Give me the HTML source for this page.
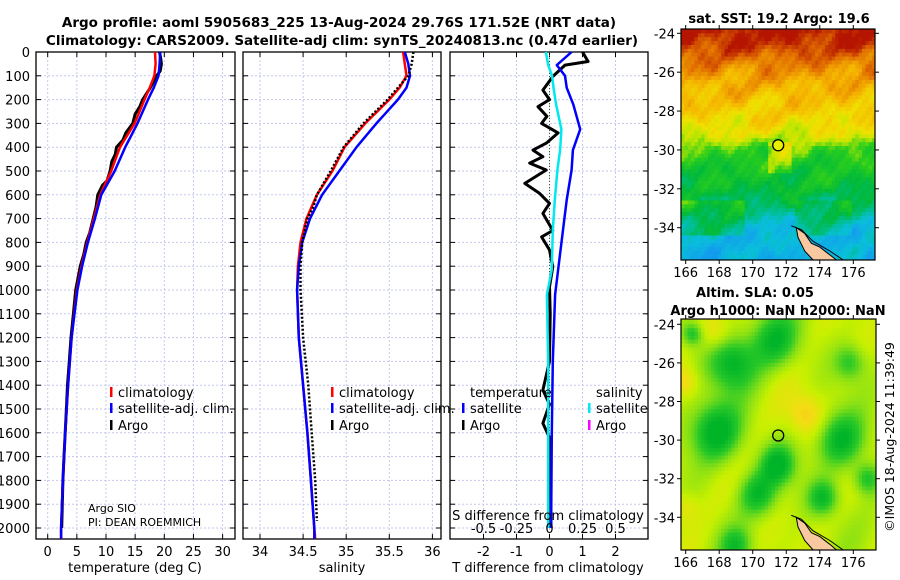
<!DOCTYPE html>
<html><head><meta charset="utf-8"><style>
html,body{margin:0;padding:0;background:#fff;}
svg{display:block;font-family:"DejaVu Sans","Liberation Sans",sans-serif;}
</style></head><body>
<svg id="c" width="900" height="580" viewBox="0 0 900 580" xmlns="http://www.w3.org/2000/svg">
<text x="339" y="27" text-anchor="middle" font-size="13.5" font-weight="bold">Argo profile: aoml 5905683_225 13-Aug-2024 29.76S 171.52E (NRT data)</text>
<text x="342" y="45" text-anchor="middle" font-size="13.5" font-weight="bold">Climatology: CARS2009. Satellite-adj clim: synTS_20240813.nc (0.47d earlier)</text>
<text x="779" y="23" text-anchor="middle" font-size="13" font-weight="bold">sat. SST: 19.2 Argo: 19.6</text>
<text x="755" y="297" text-anchor="middle" font-size="13" font-weight="bold">Altim. SLA: 0.05</text>
<text x="778" y="315" text-anchor="middle" font-size="13" font-weight="bold">Argo h1000: NaN h2000: NaN</text>
<text transform="translate(894,437) rotate(-90)" text-anchor="middle" font-size="12.5">©IMOS 18-Aug-2024 11:39:49</text>
<g id="g"></g>
</svg>
<script>
// ---- data ----
var depthLevels = [0,50,100,150,200,300,400,500,600,700,800,900,1000,1200,1400,1600,1800,2000,2046];
var climT = [18.4,18.5,18.3,17.5,16.6,14.9,12.4,10.9,9.0,7.9,6.8,5.8,5.0,4.1,3.5,3.0,2.6,2.3,2.3];
var satT  = [19.3,19.2,19.0,18.2,17.2,15.4,13.3,11.5,9.2,8.1,6.9,5.9,5.1,4.1,3.5,3.0,2.6,2.3,2.3];
var argoDepths = [0,30,50,80,100,150,200,230,260,300,340,370,400,430,460,500,540,560,600,650,700,760,800,850,900,1000,1100,1200,1300,1400,1500,1600,1700,1800,1900,2000];
var argoT = [19.2,19.4,19.5,19.3,18.7,17.6,16.3,15.8,15.0,14.6,13.4,12.9,11.8,11.6,11.0,10.7,10.2,9.4,8.6,8.3,7.8,7.2,6.6,6.2,5.6,4.8,4.4,4.0,3.7,3.4,3.2,3.0,2.8,2.6,2.5,2.4];
var climS = [35.66,35.68,35.70,35.62,35.50,35.22,34.98,34.84,34.66,34.54,34.47,34.44,34.43,34.45,34.50,34.55,34.59,34.63,34.64];
var satS  = [35.68,35.72,35.74,35.70,35.60,35.35,35.12,34.92,34.72,34.58,34.49,34.45,34.43,34.45,34.50,34.55,34.59,34.63,34.63];
var argoSDepths = [0,50,100,150,200,300,400,500,550,600,650,700,800,900,1000,1200,1400,1600,1800,1970];
var argoS = [35.78,35.76,35.72,35.60,35.48,35.20,34.97,34.82,34.74,34.66,34.62,34.55,34.49,34.47,34.47,34.50,34.56,34.60,34.64,34.66];
var diffDepths = [0,40,55,103,160,200,230,270,300,340,383,412,440,467,496,552,594,636,678,750,777,832,903,987,1100,1300,1420,1480,1560,1620,1800,2000];
var diffTargo = [1.0,1.17,0.47,0.1,-0.2,0,-0.35,-0.08,-0.24,0.26,-0.1,-0.5,-0.2,-0.6,-0.1,-0.75,-0.3,0,-0.2,0.1,-0.24,0,0.1,0,0.02,0,-0.2,0,-0.2,0,0.02,0.05];
var satDiffDepths = [0,55,100,150,220,325,412,496,622,748,916,1020,1300,1600,2000];
var diffTsat = [0.67,0.22,0.47,0.52,0.72,0.93,0.71,0.67,0.52,0.41,0.26,0.17,0.1,0.07,0.05];
var diffSsat = [-0.027,-0.01,0.02,0.03,0.05,0.09,0.08,0.06,0.04,0.025,0.017,-0.02,-0.01,-0.01,-0.01];
var depthTicks = [0,100,200,300,400,500,600,700,800,900,1000,1100,1200,1300,1400,1500,1600,1700,1800,1900,2000];
var tTicks = [0,5,10,15,20,25,30];
var sTicks = [34,34.5,35,35.5,36];
var dTicks = [-2,-1,0,1,2];
var dsTicks = [-0.5,-0.25,0,0.25,0.5];
var lonTicks = [166,168,170,172,174,176];
var latTicks = [-24,-26,-28,-30,-32,-34];
var argoLon = 171.52, argoLat = -29.76;

// ---- scales ----
var TOP=52, BOT=539;
function yD(d){return 52 + d*0.238;}
function xT(t){return 47.7 + t*5.83;}
function xS(s){return 260 + (s-34)*86.2;}
function xD(v){return 549.5 + v*33;}
function xDS(v){return xD(v*4);}
var NS="http://www.w3.org/2000/svg";
var G=document.getElementById('g');
function mk(tag,attrs,parent){var e=document.createElementNS(NS,tag);for(var k in attrs)e.setAttribute(k,attrs[k]);(parent||G).appendChild(e);return e;}
function txt(x,y,s,size,anchor,parent){var e=mk('text',{x:x,y:y,'font-size':size||13,'text-anchor':anchor||'start'},parent);e.textContent=s;return e;}

var panels=[{x0:36,x1:235,ticks:tTicks,sc:xT,name:'temperature'},{x0:243,x1:441,ticks:sTicks,sc:xS,name:'salinity'},{x0:450,x1:648,ticks:dTicks,sc:xD,name:'difference'}];
panels.forEach(function(p,pi){
  var pg=mk('g',{});
  
  
  depthTicks.forEach(function(d){
    var y=yD(d);
    var gl=mk('line',{x1:p.x0,x2:p.x1,y1:y,y2:y,stroke:'#c4c8ee','stroke-width':1,'stroke-dasharray':'2,2'},pg);
    
    
    mk('line',{x1:p.x0,x2:p.x0+5,y1:y,y2:y,stroke:'#000'},pg);
    mk('line',{x1:p.x1-5,x2:p.x1,y1:y,y2:y,stroke:'#000'},pg);
  });
  p.ticks.forEach(function(t){
    var x=p.sc(t);
    var gl=mk('line',{x1:x,x2:x,y1:TOP,y2:BOT,stroke:'#c4c8ee','stroke-width':1,'stroke-dasharray':'2,2'},pg);
    
    
    mk('line',{x1:x,x2:x,y1:BOT-5,y2:BOT,stroke:'#000'},pg);
    mk('line',{x1:x,x2:x,y1:TOP,y2:TOP+5,stroke:'#000'},pg);
    var tl=txt(x,556,String(t),13,'middle',pg);
    
    
  });
  var fr=mk('rect',{x:p.x0,y:TOP,width:p.x1-p.x0,height:BOT-TOP,fill:'none',stroke:'#000','stroke-width':1.3},pg);
  
  
});
depthTicks.forEach(function(d){
  var t=txt(30,yD(d)+5,String(d),13,'end');
  
  
});
var xt1=txt(135,572,'temperature (deg C)',13,'middle');


var xt2=txt(342,572,'salinity',13,'middle');


var xt3=txt(548,572,'T difference from climatology',13,'middle');



function line(xs,ds,sx,color,w,dash,name){
  var pts=xs.map(function(v,i){return sx(v).toFixed(1)+','+yD(ds[i]).toFixed(1);}).join(' ');
  var a={points:pts,fill:'none',stroke:color,'stroke-width':w,'stroke-linejoin':'round'};
  if(dash)a['stroke-dasharray']=dash;
  var e=mk('polyline',a);
  
  
  return e;
}
line(argoT,argoDepths,xT,'#000',3,null,'argo-temperature-line');
line(climT,depthLevels,xT,'#f00',2.5,null,'climatology-temperature-line');
line(satT,depthLevels,xT,'#00f',2.5,null,'satellite-temperature-line');
line(climS,depthLevels,xS,'#f00',2.5,null,'climatology-salinity-line');
line(satS,depthLevels,xS,'#00f',2.5,null,'satellite-salinity-line');
line(argoS,argoSDepths,xS,'#000',2.5,'2,2','argo-salinity-line');
var zl=mk('line',{x1:xD(0),x2:xD(0),y1:TOP,y2:BOT-10,stroke:'#3a5a20','stroke-width':1,'stroke-dasharray':'1,2'});


line(diffTargo,diffDepths,xD,'#000',3,null,'argo-t-difference-line');
line(diffTsat,satDiffDepths,xD,'#00f',2.5,null,'satellite-t-difference-line');
line(diffSsat,satDiffDepths,xDS,'#00e8f0',2.5,null,'satellite-s-difference-line');

var st=txt(548,520,'S difference from climatology',13,'middle');


dsTicks.forEach(function(v){
  var t=txt(xDS(v),533,String(v),13,'middle');
  
  
});

function legend(x,y,color,label,name){
  var lg=mk('g',{});
  
  
  mk('rect',{x:x,y:y-10,width:2.5,height:10,fill:color},lg);
  txt(x+8,y,label,13,'start',lg);
}
legend(110,397,'#f00','climatology','legend-climatology');
legend(110,413,'#00f','satellite-adj. clim.','legend-satellite-adj');
legend(110,430,'#000','Argo','legend-argo');
legend(331,397,'#f00','climatology','legend-climatology-salinity');
legend(331,413,'#00f','satellite-adj. clim.','legend-satellite-adj-salinity');
legend(331,430,'#000','Argo','legend-argo-salinity');
var lt=txt(470,397,'temperature',13);


legend(462,413,'#00f','satellite','legend-t-satellite');
legend(462,430,'#000','Argo','legend-t-argo');
var ls=txt(596,397,'salinity',13);


legend(588,413,'#00e8f0','satellite','legend-s-satellite');
legend(588,430,'#f0f','Argo','legend-s-argo');
var pi1=txt(88,512,'Argo SIO',11);


var pi2=txt(88,526,'PI: DEAN ROEMMICH',11);



// ---- maps ----
function rgb(a){return 'rgb('+a.map(Math.round).join(',')+')';}
function lerpC(stops,v){
  if(v<=stops[0][0])return rgb(stops[0][1]);
  for(var i=1;i<stops.length;i++){if(v<=stops[i][0]){var a=stops[i-1],b=stops[i],f=(v-a[0])/(b[0]-a[0]);
    return rgb([0,1,2].map(function(k){return a[1][k]+(b[1][k]-a[1][k])*f;}));}}
  return rgb(stops[stops.length-1][1]);
}
var sstStops=[[0.15,[20,150,240]],[0.27,[10,190,220]],[0.35,[0,190,140]],[0.42,[0,185,60]],[0.52,[40,205,30]],[0.6,[190,230,0]],[0.66,[240,225,0]],[0.75,[245,180,0]],[0.85,[225,110,0]],[0.95,[180,20,0]]];
var slaStops=[[0.2,[0,180,40]],[0.35,[40,200,40]],[0.5,[140,225,20]],[0.62,[200,240,0]],[0.75,[245,220,20]],[0.9,[240,170,40]]];
function drawMap(m){
  var mg=mk('g',{});
  
  
  var lonL=165.72,lonR=177.3;
  function X(lon){return m.x0+(lon-lonL)*m.px;}
  function Y(lat){return m.latY0+(-24-lat)*m.py;}
  var step=0.2;
  for(var lat=m.latTop;lat>m.latBot-step;lat-=step){
    for(var lon=lonL;lon<lonR;lon+=step){
      var v=m.f(lon+step/2,lat-step/2);
      var x=Math.max(X(lon),m.x0),y=Math.max(Y(lat),m.y0);
      var x2=Math.min(X(lon+step),m.x1),y2=Math.min(Y(lat-step),m.y1);
      if(x2<=x||y2<=y)continue;
      mk('rect',{x:x.toFixed(1),y:y.toFixed(1),width:(x2-x+0.5).toFixed(1),height:(y2-y+0.5).toFixed(1),fill:lerpC(m.stops,v)},mg);
    }
  }
  var land=[[172.6,-34.0],[173.1,-34.3],[173.5,-34.8],[174.0,-35.0],[174.6,-35.4],[175.0,-35.8],[173.6,-35.8],[173.1,-35.2],[172.7,-34.5]];
  var lp=land.map(function(p){return X(p[0]).toFixed(1)+','+Math.min(Y(p[1]),m.y1).toFixed(1);}).join(' ');
  var le=mk('polygon',{points:lp,fill:'#f8c8a0',stroke:'#000','stroke-width':1},mg);
  
  
  var coast=[[172.3,-33.9],[172.9,-34.1],[173.6,-34.7],[174.6,-35.2],[175.4,-35.8]];
  mk('polyline',{points:coast.map(function(p){return X(p[0]).toFixed(1)+','+Math.min(Y(p[1]),m.y1).toFixed(1);}).join(' '),fill:'none',stroke:'#000','stroke-width':1},mg);
  var ci=mk('circle',{cx:X(argoLon),cy:Y(argoLat),r:m.cr,fill:m.cfill,stroke:'#000','stroke-width':1.3},mg);
  
  
  mk('rect',{x:m.x0,y:m.y0,width:m.x1-m.x0,height:m.y1-m.y0,fill:'none',stroke:'#000','stroke-width':1.2},mg);
  lonTicks.forEach(function(l){
    var x=X(l);
    mk('line',{x1:x,x2:x,y1:m.y1,y2:m.y1+4,stroke:'#000'},mg);
    mk('line',{x1:x,x2:x,y1:m.y0-4,y2:m.y0,stroke:'#000'},mg);
    var t=txt(x,m.y1+17,String(l),13,'middle',mg);
    
    
  });
  latTicks.forEach(function(l){
    var y=Y(l);
    mk('line',{x1:m.x0-4,x2:m.x0,y1:y,y2:y,stroke:'#000'},mg);
    mk('line',{x1:m.x1,x2:m.x1+4,y1:y,y2:y,stroke:'#000'},mg);
    var t=txt(m.x0-6,y+5,String(l),13,'end',mg);
    
    
  });
}
var sstLat=[-23.5,-24.5,-25.5,-26.5,-28,-29.2,-29.9,-31,-32,-33,-34,-36];
var sstBase=[0.96,0.92,0.83,0.76,0.70,0.64,0.54,0.47,0.44,0.36,0.26,0.22];
function interp(xs,ys,x){
  for(var i=1;i<xs.length;i++){if(x>=xs[i]){var f=(x-xs[i-1])/(xs[i]-xs[i-1]);return ys[i-1]+(ys[i]-ys[i-1])*f;}}
  return ys[ys.length-1];
}
function sstField(lon,lat){
  var base=interp(sstLat,sstBase,lat);
  if(lat<-29.6&&lat>-31.2&&lon>171&&lon<172.3)base+=0.08;
  if(lat<-32.5&&lat>-34.5&&lon<169.5)base+=0.1;
  if(lat<-32.5&&lat>-34.5&&lon>172.5&&lon<176)base+=0.06;
  var n=0.035*Math.sin(lon*1.9+0.7)*Math.cos(lat*2.3)+0.03*Math.sin(lon*1.1-lat*2.9+1)+0.025*Math.cos(lon*4.1+0.3)*Math.sin(lat*3.7)+0.015*Math.sin(lon*9.7-lat*8.1);
  return base+n;
}
function slaField(lon,lat){
  var v=0.6+0.05*Math.sin(lon*0.9+0.5)*Math.cos(lat*0.8)+0.04*Math.sin(lon*1.7-lat*1.1);
  var blobs=[[168.8,-26.0,1.4,0.4],[167.8,-29.6,1.5,0.45],[171.3,-24.8,1.4,0.35],[171.5,-31.3,1.0,0.4],[175.3,-30.0,1.4,0.4],[170.3,-32.8,1.1,0.35],[174.2,-33.0,0.9,0.35],[166.4,-24.5,0.6,0.3],[175.8,-26.0,0.9,0.25],[169.0,-35.5,0.9,0.3],[176.8,-32,0.8,0.3]];
  blobs.forEach(function(b){var d=((lon-b[0])*(lon-b[0])+(lat-b[1])*(lat-b[1]))/(b[2]*b[2]);v-=b[3]*Math.exp(-d);});
  var hot=[[173.2,-28.7,1.1,0.2],[167.8,-24.5,0.9,0.15],[166,-27,0.8,0.15],[166,-33.5,0.8,0.12]];
  hot.forEach(function(b){var d=((lon-b[0])*(lon-b[0])+(lat-b[1])*(lat-b[1]))/(b[2]*b[2]);v+=b[3]*Math.exp(-d);});
  return v;
}
drawMap({name:'sst-map',x0:681,x1:875,y0:29,y1:260,latY0:33.3,px:16.76,py:19.44,latTop:-23.6,latBot:-35.8,stops:sstStops,f:sstField,cr:5.5,cfill:'#e8f000'});
drawMap({name:'sla-map',x0:681,x1:876,y0:319,y1:550,latY0:324.3,px:16.76,py:19.3,latTop:-23.6,latBot:-35.8,stops:slaStops,f:slaField,cr:5.5,cfill:'none'});
</script>
</body></html>
